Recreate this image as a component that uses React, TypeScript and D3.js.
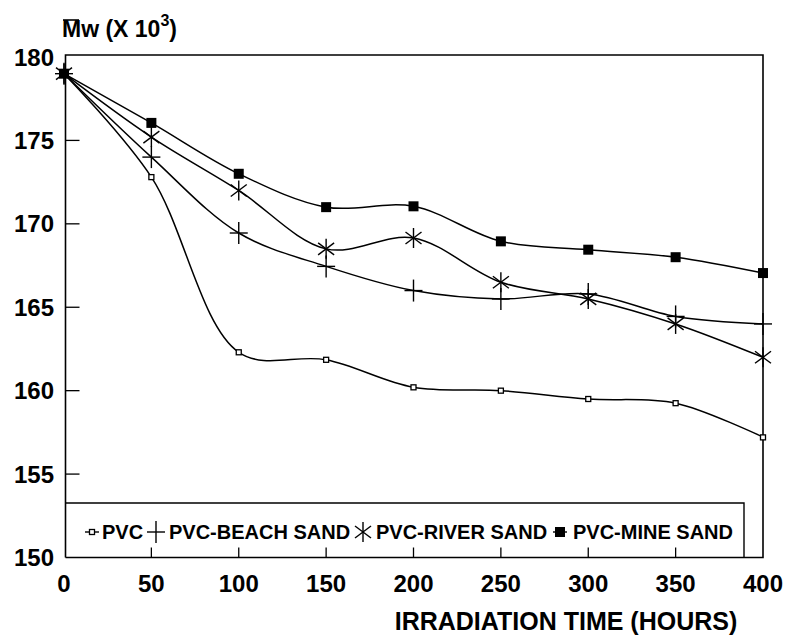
import React from "react";
import * as d3 from "d3";

// irradiation time (hours) and Mw (x 10^3)
const hours = [0, 50, 100, 150, 200, 250, 300, 350, 400];
const pvc = [179, 172.8, 162.3, 161.85, 160.2, 160.0, 159.5, 159.25, 157.2];
const beachSand = [179, 174.0, 169.45, 167.45, 166.0, 165.5, 165.8, 164.45, 164.0];
const riverSand = [179, 175.2, 172.0, 168.5, 169.15, 166.5, 165.5, 164.0, 162.0];
const mineSand = [179, 176.05, 173.0, 171.0, 171.05, 168.95, 168.45, 168.0, 167.05];

const seriesNames = ["PVC", "PVC-BEACH SAND", "PVC-RIVER SAND", "PVC-MINE SAND"];
const seriesMarkers = ["square", "plus", "asterisk", "filled"];
const xTicks = [0, 50, 100, 150, 200, 250, 300, 350, 400];
const yTicks = [150, 155, 160, 165, 170, 175, 180];

const font = "'Liberation Sans', Arial, sans-serif";

const Marker = ({ kind, x, y }: { kind: string; x: number; y: number }) => {
  if (kind === "square")
    return <rect x={x - 2.5} y={y - 2.5} width={5} height={5} fill="#fff" stroke="#000" strokeWidth={1.3} />;
  if (kind === "filled") return <rect x={x - 5} y={y - 5} width={10} height={10} fill="#000" />;
  if (kind === "plus")
    return (
      <g stroke="#000" strokeWidth={1.4}>
        <line x1={x - 9} x2={x + 9} y1={y} y2={y} />
        <line x1={x} x2={x} y1={y - 11} y2={y + 11} />
      </g>
    );
  // asterisk: vertical + two diagonals
  return (
    <g stroke="#000" strokeWidth={1.4}>
      <line x1={x} x2={x} y1={y - 10} y2={y + 10} />
      <line x1={x - 8} x2={x + 8} y1={y - 6} y2={y + 6} />
      <line x1={x - 8} x2={x + 8} y1={y + 6} y2={y - 6} />
    </g>
  );
};

export default function App() {
  const width = 789;
  const height = 636;
  const x = d3.scaleLinear().domain([0, 400]).range([64, 763]);
  const y = d3.scaleLinear().domain([150, 180]).range([557.5, 57]);

  const series = [pvc, beachSand, riverSand, mineSand];
  const line = d3
    .line<number>()
    .x((_, i) => x(hours[i]))
    .y((d) => y(d))
    .curve(d3.curveCatmullRom.alpha(0.5));

  const left = x(0) + 1.5;
  const right = x(400);
  const top = y(180) - 2;
  const bottom = y(150);
  const legendTop = 503;
  const legendRight = 744;

  const legendSym = [92, 156, 363, 560];
  const legendText = [102, 169, 376, 573];

  return (
    <svg
      width={width}
      height={height}
      style={{ position: "absolute", left: 0, top: 0, background: "#fff" }}
      fontFamily={font}
      fontWeight="bold"
    >
      {/* frame */}
      <path
        d={`M${left},${bottom}V${top}H${right}V${bottom}H${left}`}
        fill="none"
        stroke="#000"
        strokeWidth={1.6}
      />
      {/* legend box */}
      <path
        d={`M${left},${legendTop}H${legendRight}V${bottom}`}
        fill="none"
        stroke="#000"
        strokeWidth={1.4}
      />
      {/* y ticks */}
      {yTicks.map((t) => (
        <g key={t}>
          {t > 150 && t < 180 && (
            <line x1={left} x2={left + 14} y1={y(t)} y2={y(t)} stroke="#000" strokeWidth={1.3} />
          )}
          <text x={54} y={y(t)} dy="0.36em" textAnchor="end" fontSize={24}>
            {t}
          </text>
        </g>
      ))}
      {/* x ticks */}
      {xTicks.map((t) => (
        <g key={t}>
          {t > 0 && t < 400 && (
            <line x1={x(t)} x2={x(t)} y1={bottom} y2={bottom - 10} stroke="#000" strokeWidth={1.3} />
          )}
          <text x={x(t)} y={592} textAnchor="middle" fontSize={24}>
            {t}
          </text>
        </g>
      ))}
      {/* axis titles */}
      <text x={566} y={630} textAnchor="middle" fontSize={25}>
        IRRADIATION TIME (HOURS)
      </text>
      <line x1={63} x2={79} y1={20} y2={20} stroke="#000" strokeWidth={1.6} />
      <text x={62} y={37} fontSize={23}>
        Mw (X 10
        <tspan dy={-11} fontSize={16}>
          3
        </tspan>
        <tspan dy={11}>)</tspan>
      </text>
      {/* series */}
      {series.map((s, si) => (
        <g key={si}>
          <path d={line(s) ?? ""} fill="none" stroke="#000" strokeWidth={1.5} />
          {s.map((v, i) => (
            <Marker key={i} kind={seriesMarkers[si]} x={x(hours[i])} y={y(v)} />
          ))}
        </g>
      ))}
      {/* legend */}
      {seriesNames.map((name, i) => (
        <g key={name}>
          {(i === 0 || i === 3) && (
            <line x1={legendSym[i] - 7} x2={legendSym[i] + 7} y1={532} y2={532} stroke="#000" strokeWidth={1.4} />
          )}
          <Marker kind={seriesMarkers[i]} x={legendSym[i]} y={532} />
          <text x={legendText[i]} y={539} fontSize={20}>
            {name}
          </text>
        </g>
      ))}
    </svg>
  );
}
